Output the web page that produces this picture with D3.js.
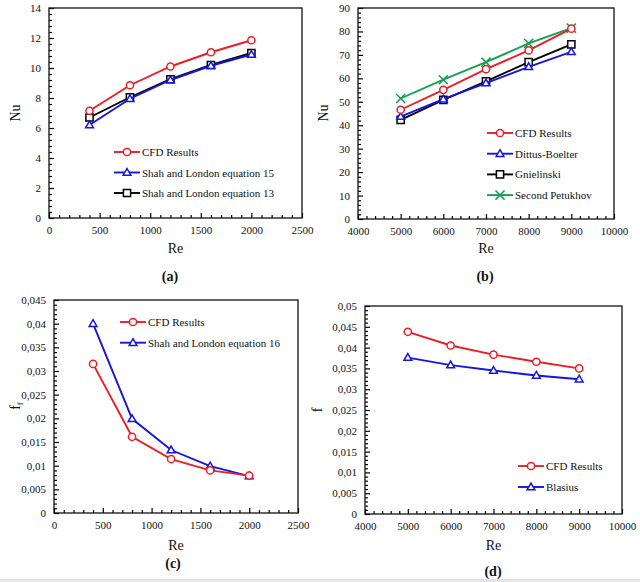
<!DOCTYPE html>
<html>
<head>
<meta charset="utf-8">
<script src="https://cdn.jsdelivr.net/npm/d3@7"></script>
<style>
  body { margin: 0; background: #fff; }
  svg text { font-family: "Liberation Serif", "DejaVu Serif", "Times New Roman", serif; }
</style>
</head>
<body>
<svg id="chart" width="640" height="582"></svg>
<script>
// Reynolds numbers
var reLam = [400, 800, 1200, 1600, 2000];
var reTurb = [5000, 6000, 7000, 8000, 9000];

// (a) laminar Nu
var nuCfdLam = [7.15, 8.85, 10.1, 11.05, 11.85];
var nuShah15 = [6.2, 7.95, 9.2, 10.15, 10.9];
var nuShah13 = [6.7, 8.05, 9.25, 10.2, 11.0];

// (b) turbulent Nu
var nuCfdTurb = [46.6, 55.1, 63.9, 71.9, 81.2];
var nuDittus = [43.7, 51.1, 58.0, 64.9, 71.3];
var nuGnielinski = [42.3, 50.8, 58.7, 66.9, 74.5];
var nuPetukhov = [51.4, 59.4, 66.9, 74.9, 81.4];

// (c) laminar friction factor
var fCfdLam = [0.0315, 0.0161, 0.0114, 0.0090, 0.0079];
var fShah16 = [0.0400, 0.0199, 0.0133, 0.0099, 0.0078];

// (d) turbulent friction factor
var fCfdTurb = [0.0438, 0.0405, 0.0383, 0.0366, 0.0350];
var fBlasius = [0.0376, 0.0358, 0.0345, 0.0333, 0.0324];

// tick labels
var xTicksLam = [0, 500, 1000, 1500, 2000, 2500];
var xTicksTurb = [4000, 5000, 6000, 7000, 8000, 9000, 10000];
var yTicksNuLam = [0, 2, 4, 6, 8, 10, 12, 14];
var yTicksNuTurb = [0, 10, 20, 30, 40, 50, 60, 70, 80, 90];
var yTicksFLam = [0, 0.005, 0.01, 0.015, 0.02, 0.025, 0.03, 0.035, 0.04, 0.045];
var yTicksFTurb = [0, 0.005, 0.01, 0.015, 0.02, 0.025, 0.03, 0.035, 0.04, 0.045, 0.05];

var RED = '#ee1c25', BLUE = '#1515e0', BLACK = '#000', GREEN = '#12a150';
var FONT = '"Liberation Serif", "DejaVu Serif", serif';

var svg = d3.select('#chart');
svg.append('rect').attr('x', 0).attr('y', 579).attr('width', 640).attr('height', 3).attr('fill', '#e4e4e4');

function comma(d) { return String(d).replace('.', ','); }

// minor tick values between majors
function minors(ticks, n) {
    var out = [];
    for (var i = 0; i < ticks.length - 1; i++) {
        var step = (ticks[i + 1] - ticks[i]) / n;
        for (var k = 1; k < n; k++) out.push(ticks[i] + step * k);
    }
    return out;
}

function marker(g, type, color, x, y) {
    if (type === 'circle') {
        g.append('circle').attr('cx', x).attr('cy', y).attr('r', 3.6)
            .attr('fill', '#fff').attr('stroke', color).attr('stroke-width', 1.5);
    } else {
        var sym = {square: d3.symbolSquare, triangle: d3.symbolTriangle, times: d3.symbolTimes}[type];
        var size = {square: 52, triangle: 26, times: 55}[type];
        g.append('path').attr('d', d3.symbol(sym, size)())
            .attr('transform', 'translate(' + x + ',' + (type === 'triangle' ? y + 0.5 : y) + ')')
            .attr('fill', type === 'times' ? 'none' : '#fff')
            .attr('stroke', color).attr('stroke-width', 1.5);
    }
}

function styleAxis(a) {
    a.select('.domain').remove();
    a.selectAll('line').attr('stroke-width', 1.2);
    a.selectAll('text').attr('font-family', FONT).attr('font-size', 11).attr('fill', '#111');
}

function drawPanel(p) {
    var g = svg.append('g');
    var x = d3.scaleLinear().domain(p.xDomain).range([p.left, p.right]);
    var y = d3.scaleLinear().domain(p.yDomain).range([p.bottom, p.top]);

    // minor ticks
    g.append('g').attr('transform', 'translate(0,' + p.bottom + ')')
        .call(d3.axisBottom(x).tickValues(minors(p.xTicks, 5)).tickSize(-3).tickFormat(''))
        .call(styleAxis);
    g.append('g').attr('transform', 'translate(' + p.left + ',0)')
        .call(d3.axisLeft(y).tickValues(minors(p.yTicks, 5)).tickSize(-3).tickFormat(''))
        .call(styleAxis);

    // major ticks
    g.append('g').attr('transform', 'translate(0,' + p.bottom + ')')
        .call(d3.axisBottom(x).tickValues(p.xTicks).tickSize(-5).tickPadding(8).tickFormat(d3.format('d')))
        .call(styleAxis);
    g.append('g').attr('transform', 'translate(' + p.left + ',0)')
        .call(d3.axisLeft(y).tickValues(p.yTicks).tickSize(-5).tickPadding(8).tickFormat(p.yFormat))
        .call(styleAxis);

    // frame
    g.append('rect').attr('x', p.left).attr('y', p.top)
        .attr('width', p.right - p.left).attr('height', p.bottom - p.top)
        .attr('fill', 'none').attr('stroke', '#111').attr('stroke-width', 1.3);

    var line = d3.line().x(function (d) { return x(d[0]); }).y(function (d) { return y(d[1]); });

    // series drawn back to front
    p.series.slice().reverse().forEach(function (s) {
        var pts = p.xs.map(function (v, i) { return [v, s.values[i]]; });
        g.append('path').datum(pts).attr('d', line)
            .attr('fill', 'none').attr('stroke', s.color).attr('stroke-width', 1.9);
        pts.forEach(function (d) { marker(g, s.marker, s.color, x(d[0]), y(d[1])); });
    });

    // legend
    p.series.forEach(function (s, i) {
        var ly = p.legend.y + i * p.legend.dy;
        g.append('line').attr('x1', p.legend.x).attr('x2', p.legend.x + 26)
            .attr('y1', ly).attr('y2', ly).attr('stroke', s.color).attr('stroke-width', 1.9);
        marker(g, s.marker, s.color, p.legend.x + 13, ly);
        g.append('text').attr('x', p.legend.x + 28).attr('y', ly + 4)
            .attr('font-family', FONT).attr('font-size', 11).attr('fill', '#111').text(s.name);
    });

    // axis titles
    g.append('text').attr('x', (p.left + p.right) / 2).attr('y', p.xLabelY)
        .attr('text-anchor', 'middle').attr('font-family', FONT).attr('font-size', 14).attr('fill', '#111').text('Re');
    var yl = g.append('text')
        .attr('transform', 'translate(' + p.yLabelX + ',' + p.yLabelY + ') rotate(-90)')
        .attr('text-anchor', 'middle').attr('font-family', FONT).attr('font-size', 14).attr('fill', '#111');
    yl.append('tspan').text(p.yLabel);
    if (p.ySub) yl.append('tspan').attr('font-size', 9).attr('dy', 3).text(p.ySub);

    g.append('text').attr('x', p.capX).attr('y', p.capY)
        .attr('text-anchor', 'middle').attr('font-family', FONT).attr('font-size', 14).attr('font-weight', 'bold')
        .attr('fill', '#111').text(p.caption);
}

drawPanel({
    left: 49, right: 302, top: 8, bottom: 218,
    xDomain: [0, 2500], yDomain: [0, 14], xTicks: xTicksLam, yTicks: yTicksNuLam,
    yFormat: d3.format('d'), xs: reLam,
    series: [
        {name: 'CFD Results', values: nuCfdLam, color: RED, marker: 'circle'},
        {name: 'Shah and London equation 15', values: nuShah15, color: BLUE, marker: 'triangle'},
        {name: 'Shah and London equation 13', values: nuShah13, color: BLACK, marker: 'square'}
    ],
    legend: {x: 114, y: 152, dy: 20.5},
    yLabel: 'Nu', yLabelX: 20, yLabelY: 113, xLabelY: 253,
    caption: '(a)', capX: 170, capY: 281
});

drawPanel({
    left: 358, right: 614, top: 8, bottom: 219,
    xDomain: [4000, 10000], yDomain: [0, 90], xTicks: xTicksTurb, yTicks: yTicksNuTurb,
    yFormat: d3.format('d'), xs: reTurb,
    series: [
        {name: 'CFD Results', values: nuCfdTurb, color: RED, marker: 'circle'},
        {name: 'Dittus-Boelter', values: nuDittus, color: BLUE, marker: 'triangle'},
        {name: 'Gnielinski', values: nuGnielinski, color: BLACK, marker: 'square'},
        {name: 'Second Petukhov', values: nuPetukhov, color: GREEN, marker: 'times'}
    ],
    legend: {x: 487, y: 133, dy: 20.7},
    yLabel: 'Nu', yLabelX: 328, yLabelY: 113, xLabelY: 253,
    caption: '(b)', capX: 485, capY: 281
});

drawPanel({
    left: 54, right: 298, top: 300, bottom: 513,
    xDomain: [0, 2500], yDomain: [0, 0.045], xTicks: xTicksLam, yTicks: yTicksFLam,
    yFormat: comma, xs: reLam,
    series: [
        {name: 'CFD Results', values: fCfdLam, color: RED, marker: 'circle'},
        {name: 'Shah and London equation 16', values: fShah16, color: BLUE, marker: 'triangle'}
    ],
    legend: {x: 120, y: 322, dy: 20.7},
    yLabel: 'f', ySub: 'f', yLabelX: 20, yLabelY: 406, xLabelY: 550,
    caption: '(c)', capX: 173, capY: 568
});

drawPanel({
    left: 365, right: 622, top: 306, bottom: 514,
    xDomain: [4000, 10000], yDomain: [0, 0.05], xTicks: xTicksTurb, yTicks: yTicksFTurb,
    yFormat: comma, xs: reTurb,
    series: [
        {name: 'CFD Results', values: fCfdTurb, color: RED, marker: 'circle'},
        {name: 'Blasius', values: fBlasius, color: BLUE, marker: 'triangle'}
    ],
    legend: {x: 518, y: 466, dy: 21},
    yLabel: 'f', yLabelX: 322, yLabelY: 410, xLabelY: 550,
    caption: '(d)', capX: 493, capY: 576
});
</script>
</body>
</html>
